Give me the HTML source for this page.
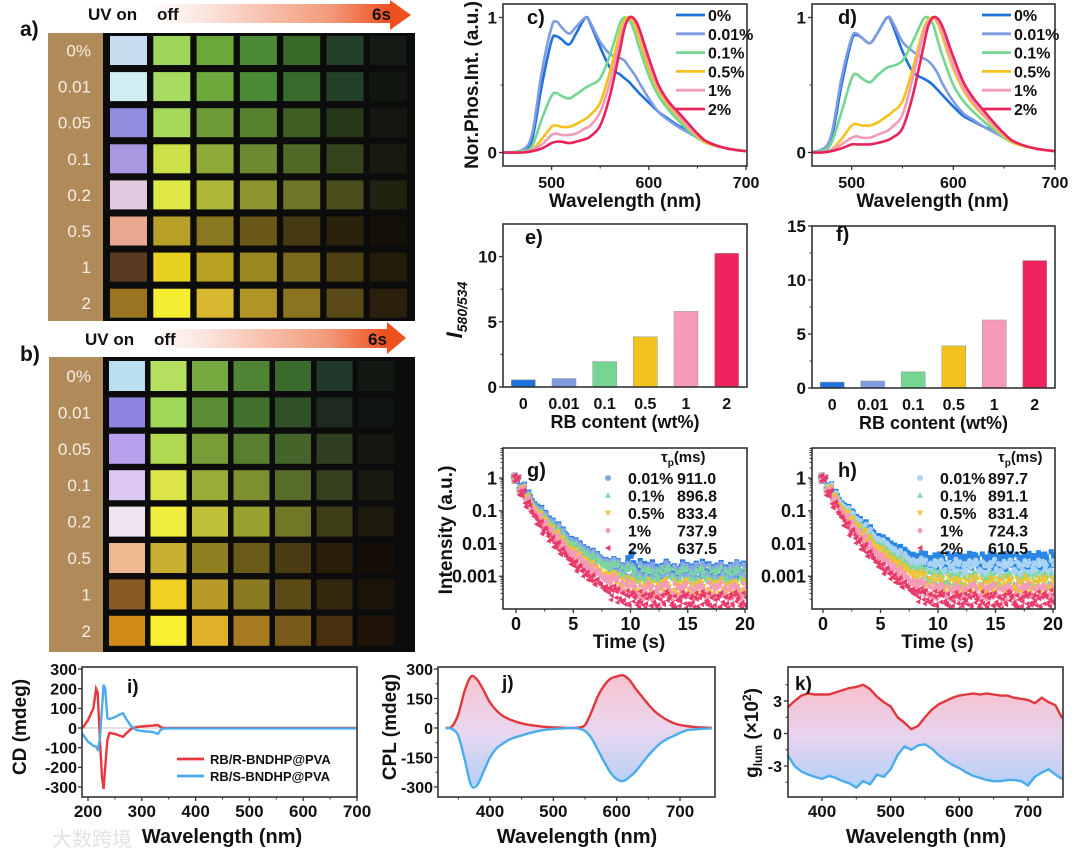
<!DOCTYPE html>
<html><head><meta charset="utf-8">
<style>
html,body{margin:0;padding:0;background:#fff;}
svg{display:block;font-family:"Liberation Sans","Noto Sans CJK SC",sans-serif;}
text{font-weight:bold;fill:#111;}
</style></head>
<body>
<svg id="fig" width="1080" height="854" viewBox="0 0 1080 854" xmlns="http://www.w3.org/2000/svg">
<defs>
<linearGradient id="arrowGrad" x1="0" x2="1" y1="0" y2="0">
<stop offset="0" stop-color="#ffffff"/><stop offset="0.25" stop-color="#fbe2da"/><stop offset="0.75" stop-color="#f29a7a"/><stop offset="1" stop-color="#ee5020"/></linearGradient>
<linearGradient id="fillGradJ" x1="0" x2="0" y1="0" y2="1">
<stop offset="0" stop-color="#f7b8c8"/><stop offset="0.5" stop-color="#e6d0ec"/><stop offset="1" stop-color="#a8c8f4"/></linearGradient>
<linearGradient id="fillGradK" x1="0" x2="0" y1="0" y2="1">
<stop offset="0" stop-color="#f7b4c4"/><stop offset="0.5" stop-color="#e4ccec"/><stop offset="1" stop-color="#a4c8f6"/></linearGradient>
</defs>
</svg>
<script>
// ---------- DATA ----------
const rowLabels = ["0%","0.01","0.05","0.1","0.2","0.5","1","2"];
const photoA = [
["#c8dcf0","#9ed65a","#6aa83a","#4d8a35","#3a6a2a","#24402a","#141a14"],
["#d2ecf4","#a8dc60","#6ca83c","#4a8a34","#386c2c","#22402a","#121610"],
["#8f8ee0","#a6d85a","#6e9a38","#56802e","#3e5e24","#28381a","#141610"],
["#a898e0","#cce048","#8eaa38","#6c8a30","#4e6a26","#34441c","#181a10"],
["#e2c8e0","#e0e848","#b0b838","#8c9430","#6e7428","#4a4e1c","#222210"],
["#e8a890","#b8a028","#8a7820","#6a5818","#463a12","#2a220c","#141008"],
["#5a3a20","#e8d020","#b8a020","#9a8820","#7a6a1a","#4e4212","#241c0a"],
["#9a7420","#f4ee30","#d8b830","#b09428","#8a7420","#5a4a18","#2a200c"]];
const photoB = [
["#b8e0f0","#b8e060","#74aa40","#4e8434","#3a6a2c","#22382a","#121812"],
["#8c84e0","#a0d858","#5a8c34","#44702e","#30502a","#1c2a20","#101410"],
["#b8a0ec","#b0d850","#7a9c38","#5a7e30","#44642a","#2e4020","#141610"],
["#dcc8f0","#dce448","#9aac38","#7c9030","#566c28","#344020","#181a10"],
["#f0e4f0","#f0ec40","#c0c038","#98a030","#707828","#3e3e18","#1c1a0c"],
["#f0b890","#c8b030","#908020","#6a5a18","#4a3c12","#2a1e0a","#140e06"],
["#8a5a24","#f0d020","#b89a28","#8c7a22","#5c4a16","#34280e","#1c1408"],
["#d08a18","#f8f030","#e0b028","#a87a20","#7a5a18","#4a3010","#201408"]];

const specLabels = ["0%","0.01%","0.1%","0.5%","1%","2%"];
const specWl = [450,470,480,490,500,505,510,518,525,535,540,550,560,570,575,580,585,590,600,610,620,630,640,650,660,680,700];
const specC0   = [0,0.01,0.1,0.5,0.83,0.86,0.84,0.80,0.88,1.0,0.95,0.78,0.63,0.58,0.55,0.52,0.48,0.44,0.37,0.30,0.25,0.20,0.17,0.12,0.07,0.03,0.01];
const specC001 = [0,0.02,0.14,0.6,0.93,0.97,0.93,0.88,0.93,1.0,0.96,0.82,0.73,0.70,0.68,0.63,0.58,0.52,0.40,0.30,0.24,0.19,0.15,0.11,0.07,0.03,0.01];
const specC01  = [0,0.01,0.05,0.25,0.42,0.44,0.42,0.40,0.43,0.48,0.50,0.55,0.72,0.95,1.0,0.98,0.90,0.78,0.57,0.42,0.32,0.24,0.17,0.11,0.07,0.03,0.01];
const specC05  = [0,0,0.02,0.10,0.19,0.20,0.19,0.19,0.21,0.25,0.28,0.37,0.60,0.88,0.98,1.0,0.95,0.85,0.62,0.46,0.35,0.27,0.19,0.12,0.07,0.03,0.01];
const specC1   = [0,0,0.02,0.06,0.13,0.14,0.13,0.13,0.14,0.18,0.20,0.30,0.52,0.82,0.94,1.0,0.98,0.90,0.66,0.48,0.37,0.28,0.20,0.13,0.08,0.03,0.01];
const specC2   = [0,0,0.01,0.03,0.07,0.08,0.08,0.07,0.08,0.10,0.12,0.20,0.42,0.75,0.92,1.0,0.99,0.92,0.70,0.50,0.38,0.30,0.22,0.14,0.08,0.03,0.01];
const specD0   = [0,0.01,0.1,0.5,0.83,0.87,0.85,0.81,0.88,1.0,0.95,0.75,0.60,0.55,0.53,0.50,0.46,0.42,0.34,0.27,0.23,0.19,0.16,0.11,0.07,0.03,0.01];
const specD001 = [0,0.02,0.13,0.55,0.85,0.88,0.85,0.81,0.88,1.0,0.97,0.82,0.75,0.70,0.68,0.64,0.58,0.50,0.38,0.29,0.24,0.19,0.15,0.11,0.07,0.03,0.01];
const specD01  = [0,0.01,0.07,0.30,0.55,0.58,0.55,0.52,0.57,0.63,0.64,0.68,0.82,0.98,1.0,0.95,0.82,0.70,0.50,0.38,0.30,0.23,0.17,0.11,0.07,0.03,0.01];
const specD05  = [0,0,0.02,0.10,0.20,0.21,0.20,0.20,0.22,0.27,0.30,0.38,0.62,0.90,0.98,1.0,0.95,0.84,0.62,0.46,0.35,0.27,0.19,0.12,0.07,0.03,0.01];
const specD1   = [0,0,0.02,0.06,0.11,0.12,0.11,0.11,0.13,0.16,0.19,0.28,0.55,0.86,0.96,1.0,0.97,0.88,0.65,0.48,0.37,0.28,0.20,0.13,0.08,0.03,0.01];
const specD2   = [0,0,0.01,0.03,0.06,0.06,0.06,0.06,0.07,0.09,0.11,0.18,0.42,0.76,0.93,1.0,0.99,0.92,0.71,0.52,0.40,0.31,0.22,0.14,0.08,0.03,0.01];
const specColors = ["#1e72dc","#7f9be2","#74d692","#f3c21e","#f59ab8","#e8245a"];

const barCats = ["0","0.01","0.1","0.5","1","2"];
const barE = [0.55,0.65,1.95,3.85,5.8,10.25];
const barF = [0.55,0.65,1.5,3.9,6.3,11.8];
const barColors = ["#1e72dc","#7f9be2","#74d692","#f3c21e","#f59ab8","#f0245c"];

const decayT = [0,0.5,1,1.5,2,2.5,3,3.5,4,4.5,5,5.5,6,6.5,7,7.5,8,8.5,9,9.5,10,10.5,11,11.5,12,12.5,13,13.5,14,14.5,15,15.5,16,16.5,17,17.5,18,18.5,19,19.5,20];
const decayLabels = ["0.01%","0.1%","0.5%","1%","2%"];
const tauG = ["911.0","896.8","833.4","737.9","637.5"];
const tauH = ["897.7","891.1","831.4","724.3","610.5"];
// log10 intensity
const gLog0  = [0,-0.28,-0.52,-0.75,-0.95,-1.14,-1.32,-1.49,-1.65,-1.8,-1.94,-2.07,-2.19,-2.3,-2.4,-2.5,-2.58,-2.66,-2.72,-2.78,-2.5,-2.8,-2.72,-2.85,-2.76,-2.9,-2.74,-2.82,-2.88,-2.76,-2.84,-2.8,-2.9,-2.74,-2.82,-2.86,-2.78,-2.84,-2.92,-2.76,-2.8];
const gLog001= [0,-0.3,-0.55,-0.78,-0.98,-1.17,-1.35,-1.52,-1.68,-1.83,-1.97,-2.1,-2.22,-2.33,-2.43,-2.52,-2.6,-2.68,-2.74,-2.8,-2.85,-2.9,-2.8,-2.88,-2.83,-2.92,-2.78,-2.86,-2.9,-2.82,-2.87,-2.84,-2.93,-2.8,-2.86,-2.89,-2.82,-2.88,-2.85,-2.78,-2.84];
const gLog01 = [0,-0.32,-0.58,-0.82,-1.03,-1.23,-1.41,-1.58,-1.74,-1.89,-2.03,-2.16,-2.28,-2.39,-2.49,-2.58,-2.66,-2.73,-2.79,-2.84,-2.88,-2.95,-2.88,-2.92,-2.99,-2.9,-2.94,-2.87,-2.96,-2.91,-2.93,-2.98,-2.89,-2.95,-2.92,-2.97,-2.9,-2.94,-2.99,-2.91,-2.95];
const gLog05 = [0,-0.35,-0.63,-0.89,-1.12,-1.33,-1.53,-1.72,-1.9,-2.07,-2.23,-2.38,-2.52,-2.65,-2.77,-2.88,-2.98,-3.07,-3.15,-3.22,-3.28,-3.32,-3.38,-3.3,-3.4,-3.35,-3.28,-3.42,-3.33,-3.37,-3.3,-3.39,-3.34,-3.41,-3.31,-3.36,-3.29,-3.38,-3.35,-3.4,-3.32];
const gLog1  = [0,-0.38,-0.68,-0.95,-1.19,-1.41,-1.62,-1.82,-2.0,-2.17,-2.33,-2.48,-2.62,-2.75,-2.87,-2.98,-3.08,-3.17,-3.25,-3.32,-3.38,-3.42,-3.48,-3.4,-3.5,-3.44,-3.38,-3.52,-3.43,-3.47,-3.41,-3.49,-3.44,-3.51,-3.4,-3.46,-3.39,-3.48,-3.45,-3.5,-3.42];
const gLog2  = [0,-0.45,-0.8,-1.1,-1.37,-1.61,-1.83,-2.04,-2.24,-2.42,-2.59,-2.75,-2.9,-3.04,-3.17,-3.29,-3.4,-3.5,-3.58,-3.64,-3.68,-3.72,-3.66,-3.75,-3.7,-3.78,-3.65,-3.73,-3.8,-3.68,-3.74,-3.71,-3.77,-3.66,-3.72,-3.79,-3.7,-3.74,-3.68,-3.76,-3.71];
const hLog0  = [0,-0.27,-0.5,-0.72,-0.92,-1.1,-1.27,-1.43,-1.58,-1.72,-1.85,-1.97,-2.08,-2.18,-2.27,-2.35,-2.42,-2.48,-2.5,-2.55,-2.52,-2.56,-2.5,-2.54,-2.58,-2.5,-2.53,-2.56,-2.52,-2.49,-2.55,-2.51,-2.57,-2.5,-2.53,-2.55,-2.5,-2.48,-2.54,-2.52,-2.45];
const hLog001= [0,-0.29,-0.54,-0.76,-0.96,-1.15,-1.33,-1.5,-1.65,-1.8,-1.94,-2.07,-2.19,-2.3,-2.4,-2.5,-2.58,-2.64,-2.7,-2.72,-2.75,-2.7,-2.78,-2.68,-2.76,-2.72,-2.8,-2.7,-2.75,-2.78,-2.68,-2.74,-2.79,-2.7,-2.76,-2.72,-2.78,-2.7,-2.74,-2.77,-2.72];
const hLog01 = [0,-0.32,-0.58,-0.82,-1.04,-1.24,-1.43,-1.61,-1.78,-1.94,-2.09,-2.23,-2.36,-2.48,-2.59,-2.69,-2.78,-2.86,-2.93,-2.99,-3.04,-3.1,-3.05,-3.13,-3.08,-3.15,-3.06,-3.12,-3.16,-3.07,-3.11,-3.14,-3.08,-3.12,-3.17,-3.09,-3.13,-3.06,-3.15,-3.1,-3.12];
const hLog05 = [0,-0.34,-0.61,-0.86,-1.09,-1.3,-1.5,-1.69,-1.87,-2.04,-2.2,-2.35,-2.49,-2.62,-2.74,-2.85,-2.95,-3.04,-3.12,-3.18,-3.22,-3.28,-3.2,-3.26,-3.3,-3.22,-3.27,-3.19,-3.29,-3.24,-3.26,-3.21,-3.3,-3.23,-3.27,-3.2,-3.28,-3.24,-3.26,-3.22,-3.25];
const hLog1  = [0,-0.38,-0.68,-0.95,-1.2,-1.43,-1.65,-1.85,-2.04,-2.22,-2.39,-2.55,-2.7,-2.84,-2.97,-3.09,-3.2,-3.3,-3.38,-3.44,-3.48,-3.42,-3.5,-3.44,-3.52,-3.46,-3.4,-3.5,-3.45,-3.48,-3.42,-3.5,-3.46,-3.52,-3.43,-3.47,-3.41,-3.49,-3.46,-3.5,-3.44];
const hLog2  = [0,-0.46,-0.82,-1.13,-1.41,-1.66,-1.89,-2.11,-2.31,-2.5,-2.67,-2.83,-2.98,-3.12,-3.25,-3.37,-3.48,-3.56,-3.62,-3.66,-3.7,-3.66,-3.74,-3.68,-3.76,-3.64,-3.72,-3.78,-3.67,-3.73,-3.7,-3.76,-3.65,-3.71,-3.78,-3.69,-3.73,-3.67,-3.75,-3.7,-3.62];
const gColors = ["#2a7de0","#8aa6e6","#7ad89c","#f2c230","#f59ab8","#e83a68"];
const hColors = ["#2a86e4","#a9d3f3","#7ad89c","#f2c230","#f59ab8","#e83a68"];
const markerShapes = ["square","circle","tri","tridown","diamond","trileft"];

const cdWl   = [190,200,210,215,218,222,226,229,232,236,240,250,260,265,270,280,290,300,310,320,330,335,340,350,400,500,600,700];
const cdRed  = [0,40,100,200,180,-50,-250,-310,-200,-60,-25,-30,-40,-45,-30,-5,5,8,10,12,15,5,0,0,0,0,0,0];
const cdBlue = [-30,-70,-90,-95,-110,-60,100,220,200,50,45,55,70,75,50,10,-10,-15,-18,-20,-30,-10,-3,-2,-2,-2,-2,-2];

const cplWl  = [330,340,350,360,370,380,390,400,410,420,430,440,450,460,470,480,490,500,510,520,530,540,550,560,570,580,590,600,610,620,630,640,650,660,670,680,690,700,710,720,730,740,750];
const cplRed = [0,8,70,190,262,245,190,130,90,62,45,33,24,17,12,8,5,3,2,1,0,2,15,80,160,215,250,262,268,245,200,160,120,85,60,40,25,15,10,6,3,2,1];
const cplBlue= [0,-5,-40,-160,-290,-290,-220,-150,-105,-80,-60,-48,-38,-28,-20,-13,-8,-5,-3,-1,0,-3,-15,-50,-110,-170,-225,-260,-270,-250,-220,-180,-140,-105,-75,-55,-40,-25,-12,-8,-5,-3,-2];

const glumWl = [350,360,370,380,390,400,410,420,430,440,450,460,470,480,490,500,510,520,530,540,550,560,570,580,590,600,610,620,630,640,650,660,670,680,690,700,710,720,730,740,750];
const glumRed = [2.4,3.0,3.5,3.7,3.6,3.6,3.6,3.8,4.0,4.2,4.3,4.5,4.1,3.4,2.9,2.5,1.5,1.0,0.4,0.7,1.5,2.2,2.7,3.0,3.3,3.5,3.6,3.7,3.6,3.7,3.6,3.5,3.5,3.3,3.2,3.1,2.8,3.3,2.9,2.6,1.4];
const glumBlue= [-2.0,-3.0,-3.5,-3.8,-4.0,-4.2,-3.9,-4.1,-4.4,-4.6,-5.0,-4.4,-4.7,-3.8,-4.0,-3.3,-2.0,-1.2,-1.5,-1.1,-1.0,-1.4,-2.0,-2.5,-2.9,-3.2,-3.6,-3.9,-4.1,-4.3,-4.4,-4.4,-4.3,-4.3,-4.4,-4.8,-4.0,-3.6,-3.3,-3.8,-4.2];

// ---------- HELPERS ----------
const NS = "http://www.w3.org/2000/svg";
const fig = document.getElementById('fig');
function el(tag, attrs, parent, name, inter) {
  const e = document.createElementNS(NS, tag);
  for (const k in attrs) e.setAttribute(k, attrs[k]);
  
  
  (parent || fig).appendChild(e);
  return e;
}
function txt(s, x, y, size, anchor, parent, name, extra) {
  const a = Object.assign({x:x, y:y, 'font-size':size, 'text-anchor':anchor||'middle'}, extra||{});
  const t = el('text', a, parent, name, false);
  t.textContent = s;
  return t;
}
function lin(d0,d1,r0,r1){ return v => r0 + (v-d0)/(d1-d0)*(r1-r0); }
function smooth(pts){
  let d = "M"+pts[0][0].toFixed(1)+","+pts[0][1].toFixed(1);
  for (let i=0;i<pts.length-1;i++){
    const p0=pts[Math.max(0,i-1)],p1=pts[i],p2=pts[i+1],p3=pts[Math.min(pts.length-1,i+2)];
    const c1x=p1[0]+(p2[0]-p0[0])/6,c1y=p1[1]+(p2[1]-p0[1])/6;
    const c2x=p2[0]-(p3[0]-p1[0])/6,c2y=p2[1]-(p3[1]-p1[1])/6;
    d+=" C"+c1x.toFixed(1)+","+c1y.toFixed(1)+" "+c2x.toFixed(1)+","+c2y.toFixed(1)+" "+p2[0].toFixed(1)+","+p2[1].toFixed(1);
  }
  return d;
}
function box(g, x0,y0,x1,y1,name){
  el('rect',{x:x0,y:y0,width:x1-x0,height:y1-y0,fill:'none',stroke:'#333','stroke-width':1.6},g,name,false);
}
function xTicks(g, sx, y1, major, minor, labels, ty, size){
  major.forEach((v,i)=>{
    el('line',{x1:sx(v),x2:sx(v),y1:y1,y2:y1+4,stroke:'#333','stroke-width':1.3},g,'x-tick',false);
    txt(labels[i], sx(v), ty, size, 'middle', g, 'x-tick-label');
  });
  minor.forEach(v=>{ el('line',{x1:sx(v),x2:sx(v),y1:y1,y2:y1+2.5,stroke:'#333','stroke-width':1},g,'x-minor-tick',false); });
}
function yTicks(g, sy, x0, major, minor, labels, tx, size){
  major.forEach((v,i)=>{
    el('line',{x1:x0-4,x2:x0,y1:sy(v),y2:sy(v),stroke:'#333','stroke-width':1.3},g,'y-tick',false);
    txt(labels[i], tx, sy(v)+size*0.36, size, 'end', g, 'y-tick-label');
  });
  minor.forEach(v=>{ el('line',{x1:x0-2.5,x2:x0,y1:sy(v),y2:sy(v),stroke:'#333','stroke-width':1},g,'y-minor-tick',false); });
}
function marker(g, shape, x, y, r, color, name){
  let e;
  if (shape==='circle') e = el('circle',{cx:x,cy:y,r:r,fill:color},g,name,false);
  else if (shape==='square') e = el('rect',{x:x-r,y:y-r,width:2*r,height:2*r,fill:color},g,name,false);
  else {
    let p;
    if (shape==='tri') p=[[x,y-r],[x+r,y+r*0.8],[x-r,y+r*0.8]];
    else if (shape==='tridown') p=[[x,y+r],[x+r,y-r*0.8],[x-r,y-r*0.8]];
    else if (shape==='diamond') p=[[x,y-r*1.1],[x+r,y],[x,y+r*1.1],[x-r,y]];
    else p=[[x-r,y],[x+r*0.8,y-r],[x+r*0.8,y+r]];
    e = el('polygon',{points:p.map(q=>q.join(',')).join(' '),fill:color},g,name,false);
  }
  return e;
}

// ---------- PHOTO PANELS ----------
function photoPanel(id, letter, colors, o){
  const g = el('g',{},fig,id,false);
  txt(letter, o.lx, o.ly, 21, 'start', g, 'panel-label-'+id);
  el('rect',{x:o.ax0,y:o.ay0,width:o.ahx-o.ax0,height:o.ay1-o.ay0,fill:'url(#arrowGrad)'},g,'time-arrow-body',false);
  el('polygon',{points:`${o.ahx},${o.ahy0} ${o.atip},${(o.ahy0+o.ahy1)/2} ${o.ahx},${o.ahy1}`,fill:'#ee5020'},g,'time-arrow-head',false);
  txt('UV on', o.uvx, o.uvy, 17, 'start', g, 'uv-on-label');
  txt('off', o.offx, o.uvy, 17, 'start', g, 'uv-off-label');
  txt('6s', o.sx, o.uvy, 17, 'start', g, 'time-6s-label');
  el('rect',{x:o.sx0,y:o.sy0,width:o.sx1-o.sx0,height:o.sy1-o.sy0,fill:'#b08a58'},g,'concentration-strip',false);
  el('rect',{x:o.sx1,y:o.sy0,width:o.dx1-o.sx1,height:o.sy1-o.sy0,fill:'#0c0c0c'},g,'photo-background',false);
  colors.forEach((row,r)=>{
    const y = o.cy0 + r*o.pitchY;
    txt(rowLabels[r], o.labx, y+o.ch/2+6, 17, 'end', g, 'row-label', {style:'fill:#f6efe6;font-weight:normal'});
    row.forEach((c,k)=>{
      el('rect',{x:o.cx0+k*o.pitchX,y:y,width:o.cw,height:o.ch,fill:c},g,'sample-cell',false);
    });
  });
}
photoPanel('panel-a','a)',photoA,{lx:20,ly:36,ax0:150,ay0:4,ay1:23,ahx:390,ahy0:0,ahy1:30,atip:411,uvx:88,uvy:20,offx:157,sx:372,
  sx0:48,sx1:103,sy0:33,sy1:321,dx1:415,cx0:110,cy0:36,pitchX:43.3,pitchY:36.1,cw:37,ch:29,labx:91});
photoPanel('panel-b','b)',photoB,{lx:20,ly:361,ax0:150,ay0:329,ay1:348,ahx:387,ahy0:322,ahy1:354,atip:406,uvx:85,uvy:345,offx:154,sx:368,
  sx0:49,sx1:103,sy0:357,sy1:652,dx1:415,cx0:109,cy0:361,pitchX:41.5,pitchY:36.4,cw:36,ch:30,labx:91});

// ---------- SPECTRA c, d ----------
function spectra(id, letter, series, o){
  const g = el('g',{},fig,id,false);
  const sx = lin(o.xmin,o.xmax,o.x0,o.x1), sy = lin(-0.1,1.1,o.y1,o.y0);
  const clip = el('clipPath',{id:'clip-'+id},g,'clip',false);
  el('rect',{x:o.x0,y:o.y0,width:o.x1-o.x0,height:o.y1-o.y0},clip,'clip-rect',false);
  const cg = el('g',{'clip-path':'url(#clip-'+id+')'},g,'plot-area',false);
  series.forEach((s,i)=>{
    const pts = specWl.map((w,j)=>[sx(w),sy(s[j])]);
    el('path',{d:smooth(pts),fill:'none',stroke:specColors[i],'stroke-width':2.6},cg,'spectrum-'+specLabels[i],false);
  });
  box(g,o.x0,o.y0,o.x1,o.y1,'plot-frame');
  xTicks(g,sx,o.y1,[500,600,700],[550,650],["500","600","700"],o.y1+22,16);
  yTicks(g,sy,o.x0,[0,1],[0.5],["0","1"],o.x0-6,17);
  txt('Wavelength (nm)',(o.x0+o.x1)/2+o.xtOff,o.y1+41,19,'middle',g,'x-axis-title');
  txt(letter,o.lx,24,20,'start',g,'panel-label');
  specLabels.forEach((l,i)=>{
    const y = 15 + i*18.8;
    el('line',{x1:o.legx,x2:o.legx+29,y1:y,y2:y,stroke:specColors[i],'stroke-width':2.8},g,'legend-swatch',false);
    txt(l,o.legx+32,y+6,16,'start',g,'legend-entry');
  });
  return g;
}
const gc = spectra('panel-c','c)',[specC0,specC001,specC01,specC05,specC1,specC2],{x0:503,x1:747,y0:4,y1:166,xmin:450,xmax:701,lx:527,legx:676,xtOff:0});
txt('Nor.Phos.Int. (a.u.)',0,0,19,'middle',gc,'y-axis-title',{transform:'translate(478,85) rotate(-90)'});
spectra('panel-d','d)',[specD0,specD001,specD01,specD05,specD1,specD2],{x0:812,x1:1055,y0:4,y1:166,xmin:461,xmax:700,lx:838,legx:982,xtOff:-1});

// ---------- BARS e, f ----------
function bars(id, letter, vals, o){
  const g = el('g',{},fig,id,false);
  const sy = lin(0,o.ymax,o.y1,o.y0);
  const band = (o.x1-o.x0)/vals.length;
  vals.forEach((v,i)=>{
    const cx = o.x0 + band*(i+0.5);
    el('rect',{x:cx-12,y:sy(v),width:24,height:o.y1-sy(v),fill:barColors[i],stroke:'#999','stroke-width':0.5},g,'bar-'+barCats[i],false);
    txt(barCats[i],cx,o.y1+22,16,'middle',g,'x-tick-label');
  });
  box(g,o.x0,o.y0,o.x1,o.y1,'plot-frame');
  yTicks(g,sy,o.x0,o.yt,o.ym,o.yt.map(String),o.x0-6,17);
  txt('RB content (wt%)',(o.x0+o.x1)/2,o.y1+41,18,'middle',g,'x-axis-title');
  txt(letter,o.lx,o.ly,20,'start',g,'panel-label');
  return g;
}
const ge = bars('panel-e','e)',barE,{x0:503,x1:747,y0:224,y1:387,ymax:12.5,yt:[0,5,10],ym:[2.5,7.5],lx:525,ly:244});
const it = txt('',0,0,22,'middle',ge,'y-axis-title',{transform:'translate(462,310) rotate(-90)','font-style':'italic'});
it.innerHTML = 'I<tspan font-size="14" dy="5">580/534</tspan>';
bars('panel-f','f)',barF,{x0:812,x1:1055,y0:226,y1:388,ymax:15,yt:[0,5,10,15],ym:[2.5,7.5,12.5],lx:836,ly:241});

// ---------- DECAY g, h ----------
const jitX = [-0.22,0.12,0.24,-0.08,0.05,-0.15];
const jitY = [0.05,-0.07,0.03,0.09,-0.04,-0.1];
function decay(id, letter, series, colors, taus, o){
  const g = el('g',{},fig,id,false);
  const sx = lin(0,20,o.z0,o.z20), sy = lin(-4,0,o.y1,o.yOne);
  const clip = el('clipPath',{id:'clip-'+id},g,'clip',false);
  el('rect',{x:o.x0,y:o.y0,width:o.x1-o.x0,height:o.y1-o.y0},clip,'clip-rect',false);
  const cg = el('g',{'clip-path':'url(#clip-'+id+')'},g,'plot-area',false);
  series.forEach((s,si)=>{
    const sg = el('g',{},cg,'decay-series',false);
    s.forEach((v,j)=>{
      const tail = decayT[j] > 8 ? 2.2 : 1;
      for (let k=0;k<jitX.length;k++){
        marker(sg,markerShapes[si],sx(decayT[j]+jitX[k]),sy(v+jitY[(k+j)%jitY.length]*tail),2.6,colors[si],'decay-point');
      }
    });
  });
  box(g,o.x0,o.y0,o.x1,o.y1,'plot-frame');
  xTicks(g,sx,o.y1,[0,5,10,15,20],[2.5,7.5,12.5,17.5],["0","5","10","15","20"],o.y1+21,18);
  const minors=[];
  for (let d=-4; d<1; d++) for (let m=2;m<10;m++){ const v=d+Math.log10(m); if (sy(v)>o.y0) minors.push(v); }
  yTicks(g,sy,o.x0,[0,-1,-2,-3],minors,["1","0.1","0.01","0.001"],o.x0-6,18);
  txt('Time (s)',(o.x0+o.x1)/2+4,o.y1+39,19,'middle',g,'x-axis-title');
  txt(letter,o.lx,477,20,'start',g,'panel-label');
  const tt = txt('',o.taux,462,15,'start',g,'legend-title');
  tt.innerHTML = 'τ<tspan font-size="10" dy="4">p</tspan><tspan dy="-4">(ms)</tspan>';
  decayLabels.forEach((l,i)=>{
    const y = 478 + i*17.5;
    marker(g,markerShapes[i+1],o.mx,y,3,colors[i+1],'legend-marker');
    txt(l,o.labx,y+6,16,'start',g,'legend-entry');
    txt(taus[i],o.valx,y+6,16,'start',g,'legend-value');
  });
  return g;
}
const gg = decay('panel-g','g)',[gLog0,gLog001,gLog01,gLog05,gLog1,gLog2],gColors,tauG,{x0:503,x1:747,y0:448,y1:609,z0:516,z20:745,yOne:478,lx:527,taux:661,mx:608,labx:628,valx:677});
txt('Intensity (a.u.)',0,0,19,'middle',gg,'y-axis-title',{transform:'translate(452,530) rotate(-90)'});
decay('panel-h','h)',[hLog0,hLog001,hLog01,hLog05,hLog1,hLog2],hColors,tauH,{x0:812,x1:1055,y0:448,y1:609,z0:823,z20:1053,yOne:478,lx:838,taux:998,mx:920,labx:940,valx:988});

// ---------- CD i ----------
(function(){
  const g = el('g',{},fig,'panel-i',false);
  const o = {x0:82,x1:357,y0:667,y1:797};
  const sx = lin(200,700,88,357), sy = lin(-300,300,787,669);
  el('line',{x1:o.x0,x2:o.x1,y1:sy(0),y2:sy(0),stroke:'#888','stroke-width':0.6},g,'zero-line',false);
  el('path',{d:'M'+cdWl.map((w,j)=>sx(w).toFixed(1)+','+sy(cdRed[j]).toFixed(1)).join(' L'),fill:'none',stroke:'#e8383c','stroke-width':2.4},g,'cd-r-line',false);
  el('path',{d:'M'+cdWl.map((w,j)=>sx(w).toFixed(1)+','+sy(cdBlue[j]).toFixed(1)).join(' L'),fill:'none',stroke:'#4aacec','stroke-width':2.4},g,'cd-s-line',false);
  box(g,o.x0,o.y0,o.x1,o.y1,'plot-frame');
  xTicks(g,sx,o.y1,[200,300,400,500,600,700],[250,350,450,550,650],["200","300","400","500","600","700"],817,17);
  yTicks(g,sy,o.x0,[300,200,100,0,-100,-200,-300],[],["300","200","100","0","-100","-200","-300"],o.x0-5,16);
  txt('Wavelength (nm)',222,843,20,'middle',g,'x-axis-title');
  txt('CD (mdeg)',0,0,19,'middle',g,'y-axis-title',{transform:'translate(26,727) rotate(-90)'});
  txt('i)',127,693,19,'start',g,'panel-label');
  el('line',{x1:177,x2:204,y1:759,y2:759,stroke:'#e8383c','stroke-width':2.8},g,'legend-swatch',false);
  txt('RB/R-BNDHP@PVA',210,764,13,'start',g,'legend-entry');
  el('line',{x1:177,x2:204,y1:776,y2:776,stroke:'#4aacec','stroke-width':2.8},g,'legend-swatch',false);
  txt('RB/S-BNDHP@PVA',210,781,13,'start',g,'legend-entry');
  txt('大数跨境',52,846,20,'start',g,'watermark',{style:'fill:#e2e2e2;font-weight:normal'});
})();

// ---------- CPL j ----------
(function(){
  const g = el('g',{},fig,'panel-j',false);
  const o = {x0:438,x1:715,y0:667,y1:797};
  const sx = lin(400,700,490,680), sy = lin(-300,300,787,669);
  const up = cplWl.map((w,j)=>[sx(w),sy(cplRed[j])]);
  const dn = cplWl.map((w,j)=>[sx(w),sy(cplBlue[j])]);
  el('path',{d:'M'+up.map(p=>p.join(',')).join(' L')+' L'+dn.slice().reverse().map(p=>p.join(',')).join(' L')+'Z',fill:'url(#fillGradJ)',opacity:0.85},g,'cpl-fill',false);
  el('path',{d:smooth(up),fill:'none',stroke:'#e0383c','stroke-width':2.4},g,'cpl-r-line',false);
  el('path',{d:smooth(dn),fill:'none',stroke:'#4aacec','stroke-width':2.4},g,'cpl-s-line',false);
  box(g,o.x0,o.y0,o.x1,o.y1,'plot-frame');
  xTicks(g,sx,o.y1,[400,500,600,700],[350,450,550,650],["400","500","600","700"],817,17);
  yTicks(g,sy,o.x0,[300,150,0,-150,-300],[225,75,-75,-225],["300","150","0","-150","-300"],o.x0-5,16);
  txt('Wavelength (nm)',577,843,20,'middle',g,'x-axis-title');
  txt('CPL (mdeg)',0,0,19,'middle',g,'y-axis-title',{transform:'translate(396,727) rotate(-90)'});
  txt('j)',502,689,19,'start',g,'panel-label');
})();

// ---------- g_lum k ----------
(function(){
  const g = el('g',{},fig,'panel-k',false);
  const o = {x0:788,x1:1063,y0:667,y1:797};
  const sx = lin(400,700,822,1028), sy = lin(-3,3,766,701);
  const up = glumWl.map((w,j)=>[sx(w),sy(glumRed[j])]);
  const dn = glumWl.map((w,j)=>[sx(w),sy(glumBlue[j])]);
  el('path',{d:'M'+up.map(p=>p.join(',')).join(' L')+' L'+dn.slice().reverse().map(p=>p.join(',')).join(' L')+'Z',fill:'url(#fillGradK)',opacity:0.85},g,'glum-fill',false);
  el('path',{d:'M'+up.map(p=>p.join(',')).join(' L'),fill:'none',stroke:'#e0383c','stroke-width':2.4},g,'glum-r-line',false);
  el('path',{d:'M'+dn.map(p=>p.join(',')).join(' L'),fill:'none',stroke:'#4aacec','stroke-width':2.4},g,'glum-s-line',false);
  box(g,o.x0,o.y0,o.x1,o.y1,'plot-frame');
  xTicks(g,sx,o.y1,[400,500,600,700],[450,550,650],["400","500","600","700"],817,17);
  yTicks(g,sy,o.x0,[3,0,-3],[4.5,1.5,-1.5,-4.5],["3","0","-3"],o.x0-6,16);
  txt('Wavelength (nm)',926,843,20,'middle',g,'x-axis-title');
  const yt = txt('',0,0,19,'middle',g,'y-axis-title',{transform:'translate(758,733) rotate(-90)'});
  yt.innerHTML = 'g<tspan font-size="12" dy="4">lum</tspan><tspan dy="-4"> (×10</tspan><tspan font-size="12" dy="-7">2</tspan><tspan dy="7">)</tspan>';
  txt('k)',795,690,19,'start',g,'panel-label');
})();
</script>
</body></html>
